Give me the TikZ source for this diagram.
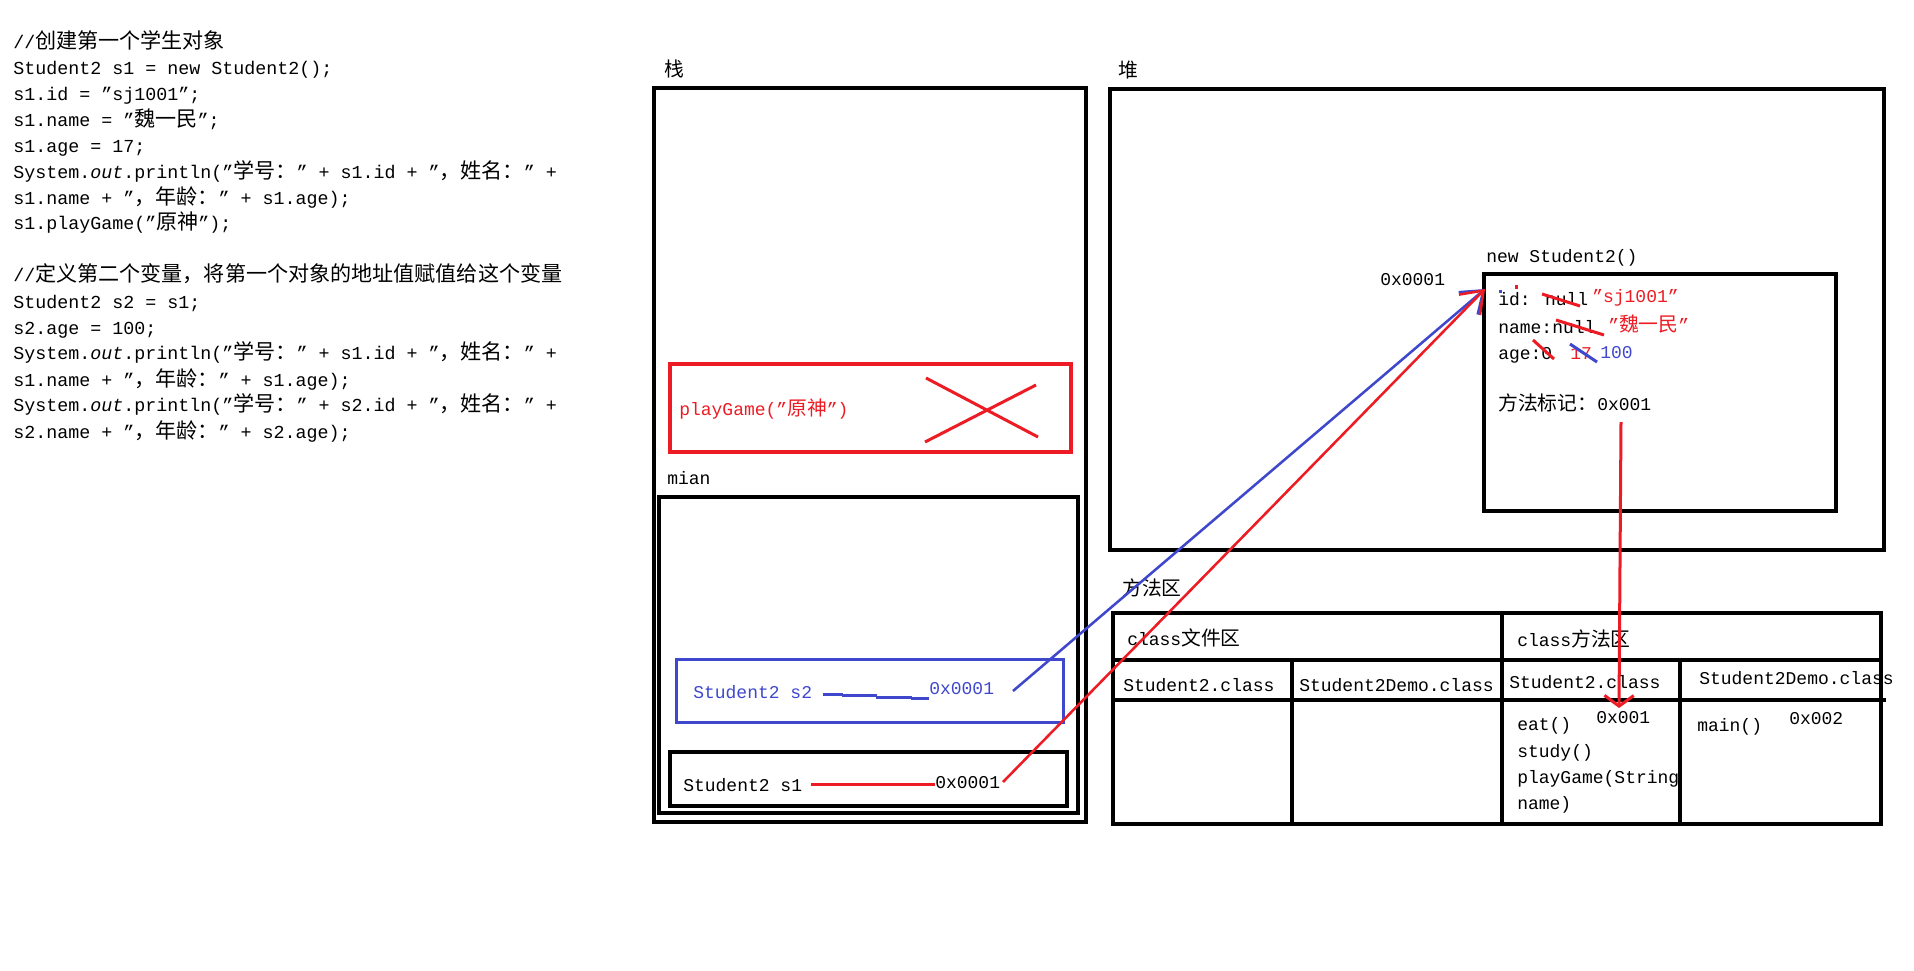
\documentclass[tikz,border=0pt]{standalone}
\usepackage{fontspec}
\setmainfont{Liberation Mono}
\newfontfamily\cjkfont{Noto Sans CJK SC}[Scale=1.1]
\newfontfamily\cjkcodefont{Noto Sans CJK SC}[Scale=1.15]
\newcommand{\zh}[1]{{\cjkfont #1}}
\newcommand{\zhc}[1]{{\cjkcodefont #1}}
\usetikzlibrary{arrows.meta,calc}
\definecolor{pred}{HTML}{ED1C24}
\definecolor{pblue}{HTML}{3F48CC}
\begin{document}
\begin{tikzpicture}[x=0.75pt,y=-0.75pt,
  code/.style={anchor=west,inner sep=0pt,font=\fontsize{13.75pt}{16pt}\selectfont,text height=13.1pt,text depth=3.4pt},
  lbl/.style={anchor=west,inner sep=0pt,font=\fontsize{13.5pt}{16pt}\selectfont,text height=12.8pt,text depth=3.4pt},
  box/.style={draw=black,line width=3pt},
  redl/.style={draw=pred,line width=2.25pt},
  bluel/.style={draw=pblue,line width=2.25pt},
  arrl/.style={line width=1.9pt,-{Straight Barb[length=15pt,width=22pt]}}
]
\useasboundingbox[fill=white] (0,0) rectangle (1914,971);

% ---------------- code text ----------------
\node[code] (c1) at (13,42) {//\zhc{创建第一个学生对象}};
\node[code] (c2) at (13,68) {Student2 s1 = new Student2();};
\node[code] (c3) at (13,94) {s1.id = "sj1001";};
\node[code] (c4) at (13,120) {s1.name = "\zhc{魏一民}";};
\node[code] (c5) at (13,146) {s1.age = 17;};
\node[code] (c6) at (13,172) {System.\textit{out}.println("\zhc{学号：}" + s1.id + "\zhc{，姓名：}" +};
\node[code] (c7) at (13,198) {s1.name + "\zhc{，年龄：}" + s1.age);};
\node[code] (c8) at (13,223) {s1.playGame("\zhc{原神}");};
\node[code] (c9) at (13,275) {//\zhc{定义第二个变量，将第一个对象的地址值赋值给这个变量}};
\node[code] (c10) at (13,302) {Student2 s2 = s1;};
\node[code] (c11) at (13,328) {s2.age = 100;};
\node[code] (c12) at (13,353) {System.\textit{out}.println("\zhc{学号：}" + s1.id + "\zhc{，姓名：}" +};
\node[code] (c13) at (13,380) {s1.name + "\zhc{，年龄：}" + s1.age);};
\node[code] (c14) at (13,405) {System.\textit{out}.println("\zhc{学号：}" + s2.id + "\zhc{，姓名：}" +};
\node[code] (c15) at (13,432) {s2.name + "\zhc{，年龄：}" + s2.age);};

% ---------------- stack ----------------
\node[lbl] (stackT) at (664,70) {\zh{栈}};
\draw[box] (654,88) rectangle (1086,822);
\draw[redl,line width=2.5pt] (670,364) rectangle (1071,452);
\node[lbl,text=pred] (play) at (679,409) {playGame("\zh{原神}")};
\draw[redl] (926,378) -- (1038,437) (925,442) -- (1036,385);
\node[lbl] (mianT) at (667,478) {mian};
\draw[box] (659,497) rectangle (1078,813);
\draw[bluel] (676,659) rectangle (1063,722);
\node[lbl,text=pblue] (s2name) at (693,692) {Student2 s2};
\node[lbl,text=pblue] (s2addr) at (929,688) {0x0001};
\draw[box] (670,752) rectangle (1067,806);
\node[lbl] (s1name) at (683,785) {Student2 s1};
\node[lbl] (s1addr) at (935,782) {0x0001};

% ---------------- heap ----------------
\node[lbl] (heapT) at (1118,71) {\zh{堆}};
\draw[box] (1110,89) rectangle (1884,550);
\node[lbl] (objaddr) at (1380,279) {0x0001};
\node[lbl] (newT) at (1486,256) {new Student2()};
\draw[box] (1484,274) rectangle (1836,511);
\node[lbl] (fid) at (1498,299) {id: null};
\node[lbl,text=pred] (vid) at (1592,296) {"sj1001"};
\node[lbl] (fname) at (1498,327) {name:null};
\node[lbl,text=pred] (vname) at (1608,325) {"\zh{魏一民}"};
\node[lbl] (fage) at (1498,353) {age:0};
\node[lbl,text=pred] (vage1) at (1570,353) {17};
\node[lbl,text=pblue] (vage2) at (1600,352) {100};
\node[lbl] (fmark) at (1498,404) {\zh{方法标记：}0x001};
\draw[redl] (1542,294) -- (1580,306);
\draw[redl] (1556,320) -- (1604,335);
\draw[redl] (1533,340) -- (1554,359);
\draw[bluel] (1570,344) -- (1597,362);
\fill[pblue] (1499,290) rectangle (1502,293);
\fill[pred] (1515,285) rectangle (1518,289);

% ---------------- method area ----------------
\node[lbl] (mthT) at (1122,589) {\zh{方法区}};
\node[lbl] (t1) at (1127,639) {class\zh{文件区}};
\node[lbl] (t2) at (1517,640) {class\zh{方法区}};
\node[lbl] (t3) at (1123,685) {Student2.class};
\node[lbl] (t4) at (1299,685) {Student2Demo.class};
\node[lbl] (t5) at (1509,682) {Student2.class};
\node[lbl] (t6) at (1699,678) {Student2Demo.class};
\node[lbl] (m1) at (1517,724) {eat()};
\node[lbl] (a1) at (1596,717) {0x001};
\node[lbl] (m2) at (1517,751) {study()};
\begin{scope}
\clip (1502,700) rectangle (1680,824);
\node[lbl] (m3) at (1517,777) {playGame(String};
\end{scope}
\node[lbl] (m4) at (1517,803) {name)};
\node[lbl] (m5) at (1697,725) {main()};
\node[lbl] (a2) at (1789,718) {0x002};
\draw[box] (1113,613) rectangle (1881,824);
\draw[box] (1113,660) -- (1881,660);
\draw[box] (1113,700) -- (1886,700);
\draw[box] (1292,660) -- (1292,824);
\draw[box] (1502,613) -- (1502,824);
\draw[box] (1680,658) -- (1680,824);

% ---------------- connectors ----------------
\draw[redl] ($(s1name.east)+(9,-1)$) -- ($(s1name.east -| s1addr.west)+(0,-1)$);
\draw[bluel] ($(s2name.east)+(11,2)$) -- ++(20,0) ++(-1,1) -- ++(35,0) ++(-1,2) -- ++(36,0) ++(-1,1) -- (s2addr.west |- 0,698);
\coordinate (s2from) at (1013,691);
\coordinate (s1from) at (1003,782);
\coordinate (objtip) at (1485,289);
\draw[pblue,arrl] (s2from) -- (objtip);
\draw[pred,arrl] (s1from) -- (objtip);
\coordinate (markfrom) at (1621,422);
\coordinate (marktip) at (1619,708);
\draw[pred,line width=2.25pt,-{Straight Barb[length=8pt,width=22pt]}] (markfrom) -- (marktip);
\end{tikzpicture}
\end{document}
